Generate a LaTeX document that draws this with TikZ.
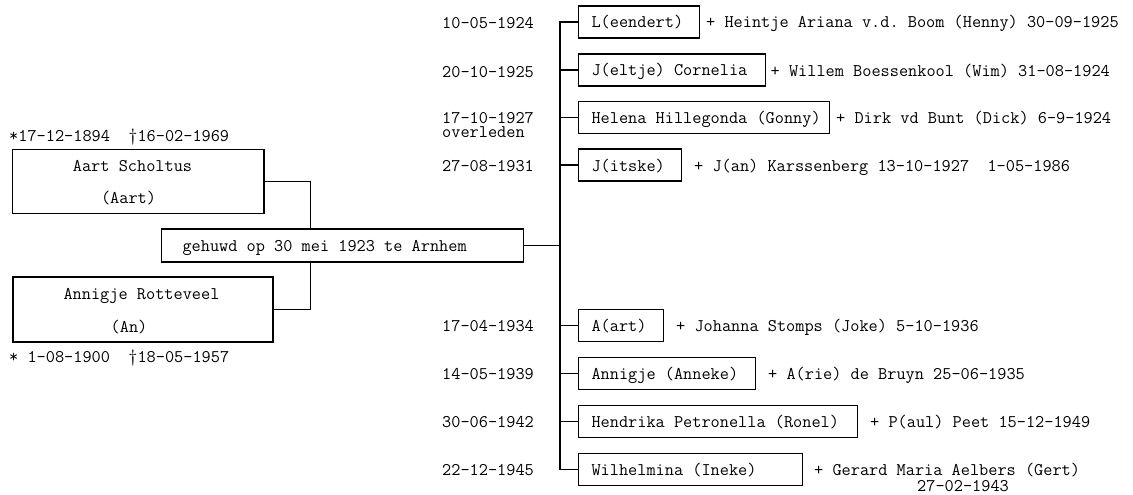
\documentclass[tikz,border=0pt]{standalone}
\usepackage{fontspec}
\begin{document}
\frenchspacing
\begin{tikzpicture}[x=1pt,y=-1pt,
  every node/.style={font=\ttfamily\fontsize{17.8}{21}\selectfont\frenchspacing, text=black, inner sep=0pt},
  line/.style={draw=black, line width=1.1pt},
  kid/.style={draw=black, line width=1.1pt, anchor=west, minimum height=32pt,
    inner xsep=0pt, inner ysep=0pt, text height=13pt, text depth=1pt},
  marrbox/.style={draw=black, line width=1.1pt, anchor=west, minimum height=33pt,
    inner xsep=0pt, inner ysep=0pt, text height=12pt, text depth=1pt},
  pbox/.style={draw=black, line width=1.1pt},
  txt/.style={anchor=base west},
  ctxt/.style={anchor=base}
]
\useasboundingbox (0,0) rectangle (1133,495);

% parents
\node[pbox, minimum width=251.3pt, minimum height=64pt] (aart) at (138.35,181.3) {};
\node[pbox, minimum width=260pt, minimum height=65pt] (an) at (143,309.5) {};
\node[marrbox] (marr) at (161,245.5) {\makebox[362pt][l]{\hspace{21pt}gehuwd op 30 mei 1923 te Arnhem}};

\node[txt] (aartdates) at (9,141) {*17-12-1894~~†16-02-1969};
\node[ctxt] (aartname) at (132.5,171) {Aart Scholtus};
\node[ctxt] (aartnick) at (128.5,203.5) {(Aart)};
\node[ctxt] (anname) at (141.5,299) {Annigje Rotteveel};
\node[ctxt] (annick) at (129,332) {(An)};
\node[txt] (andates) at (9,362.7) {* 1-08-1900~~†18-05-1957};

\draw[line] (aart.east) -| ([xshift=-32pt]marr.north);
\draw[line] (an.east) -| ([xshift=-32pt]marr.south);

% children
\node[kid] (k1) at (578,22) {\makebox[121pt][l]{\hspace{13pt}L(eendert)}};
\node[kid] (k2) at (578,70) {\makebox[187pt][l]{\hspace{13pt}J(eltje) Cornelia}};
\node[kid] (k3) at (578,117.5) {\makebox[251pt][l]{\hspace{13pt}Helena Hillegonda (Gonny)}};
\node[kid] (k4) at (578,165) {\makebox[103pt][l]{\hspace{13pt}J(itske)}};
\node[kid] (k5) at (578,325.5) {\makebox[85pt][l]{\hspace{13pt}A(art)}};
\node[kid] (k6) at (578,373.5) {\makebox[177pt][l]{\hspace{13pt}Annigje (Anneke)}};
\node[kid] (k7) at (578,421.5) {\makebox[279pt][l]{\hspace{13pt}Hendrika Petronella (Ronel)}};
\node[kid] (k8) at (578,469.5) {\makebox[224pt][l]{\hspace{13pt}Wilhelmina (Ineke)}};

% birth dates
\node[txt] (d1) at (442,28.3) {10-05-1924};
\node[txt] (d2) at (442,77.3) {20-10-1925};
\node[txt] (d3) at (442,124) {\rlap{\raisebox{-13.5pt}[0pt][0pt]{overleden}}17-10-1927};
\node[txt] (d4) at (442,171) {27-08-1931};
\node[txt] (d5) at (442,331) {17-04-1934};
\node[txt] (d6) at (442,379) {14-05-1939};
\node[txt] (d7) at (442,427) {30-06-1942};
\node[txt] (d8) at (442,475.5) {22-12-1945};

% spouses
\node[txt] (s1) at (706,28) {+ Heintje Ariana v.d. Boom (Henny) 30-09-1925};
\node[txt] (s2) at (770.5,76.5) {+ Willem Boessenkool (Wim) 31-08-1924};
\node[txt] (s3) at (836,123.5) {+ Dirk vd Bunt (Dick) 6-9-1924};
\node[txt] (s4) at (694,171) {+ J(an) Karssenberg 13-10-1927~~1-05-1986};
\node[txt] (s5) at (676,331.5) {+ Johanna Stomps (Joke) 5-10-1936};
\node[txt] (s6) at (768,379.5) {+ A(rie) de Bruyn 25-06-1935};
\node[txt] (s7) at (870,427.5) {+ P(aul) Peet 15-12-1949};
\node[txt] (s8) at (814,475.5) {\rlap{\hspace{103pt}\raisebox{-16pt}[0pt][0pt]{27-02-1943}}+ Gerard Maria Aelbers (Gert)};

% connectors
\coordinate (tr) at (560,245.5);
\draw[line] (marr.east) -- (marr.east -| tr);
\draw[line] (k1.west) -- (k1.west -| tr) -- (k8.west -| tr) -- (k8.west);
\foreach \k in {k2,k3,k4,k5,k6,k7}{
  \draw[line] (\k.west) -- (\k.west -| tr);
}
\end{tikzpicture}
\end{document}
